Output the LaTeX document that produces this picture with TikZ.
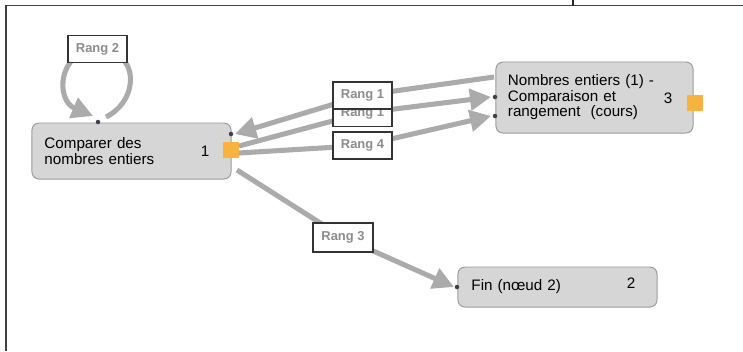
\documentclass[tikz,border=0pt]{standalone}
\usepackage{fontspec}
\setmainfont{Liberation Sans}
\usepackage{xcolor}
\usepackage{tikz}
\usetikzlibrary{positioning,arrows.meta,backgrounds}

\definecolor{boxfill}{HTML}{D6D6D6}
\definecolor{boxline}{HTML}{9C9C9C}
\definecolor{linkgray}{HTML}{ABABAB}
\definecolor{portorange}{HTML}{F7B33C}
\definecolor{rangtext}{HTML}{8C8C8C}
\definecolor{dotcol}{HTML}{3A4050}

\begin{document}
\begin{tikzpicture}[x=0.025cm, y=-0.025cm, font=\fontsize{10.8}{11}\selectfont,
		etape/.style={draw=boxline, fill=boxfill, line width=0.7pt, rounded corners=5pt,
			align=left, anchor=center, inner ysep=0pt},
		rang/.style={draw=black!80, fill=white, line width=0.9pt, text=rangtext,
			font=\fontsize{9.2}{9.5}\selectfont\bfseries, minimum width=1.475cm, minimum height=0.675cm, inner sep=0pt},
		lien/.style={draw=linkgray, line width=3.6pt, -{Triangle[length=15pt,width=15pt]}},
		port/.style={fill=portorange, minimum width=0.38cm, minimum height=0.38cm, inner sep=0pt},
		pt/.style={circle, fill=dotcol, inner sep=0pt, minimum size=3.2pt}]
	\useasboundingbox (0,0) rectangle (743,351);
	% cadre
	\draw[black!75, line width=0.8pt] (743,5.5) -- (6,5.5) -- (6,351);
	\draw[black!85, line width=1.4pt] (573,0) -- (573,5.5);
	
	% etapes
	\node[etape, minimum width=4.975cm, minimum height=1.4cm, text width=4.35cm] (A) at (131.5,151)
	{Comparer des\\nombres entiers};
	\node[etape, minimum width=4.925cm, minimum height=1.775cm, text width=4.325cm] (B) at (594.5,97.5)
	{Nombres entiers (1) -\\Comparaison et\\rangement\ \ (cours)};
	\node[etape, minimum width=4.975cm, minimum height=1cm, text width=4.3cm] (C) at (557.5,287)
	{Fin (n\oe ud 2)};
	\node (nA) at (205,151) {1};
	\node (nB) at (668,98) {3};
	\node (nC) at (631,283) {2};
	\node[port] (pA) at (231,150) {};
	\node[port] (pB) at (695,103) {};
	
	% points d'entree / sortie
	\coordinate (Ain) at (235,134);
	\coordinate (Aout1) at (239,146);
	\coordinate (Aout2) at (239,153);
	\coordinate (Aout3) at (237,170);
	\coordinate (Aself1) at (106,117);
	\coordinate (Aself2) at (93,116);
	\coordinate (Bout) at (494,77);
	\coordinate (Bin1) at (491,97);
	\coordinate (Bin2) at (491,116);
	\coordinate (Cin) at (454,287);
	
	% rangs
	\node[rang] (r2) at (97.5,49) {Rang 2};
	\node[rang] (r1b) at (362.5,113) {Rang 1};
	\node[rang] (r1a) at (362.5,95.5) {Rang 1};
	\node[rang] (r4) at (362.5,145.5) {Rang 4};
	\node[rang, minimum width=1.5cm, minimum height=0.72cm] (r3) at (343,237.5) {Rang 3};
	
	\begin{scope}[on background layer]
		\draw[lien] (Aself1) .. controls (140,100) and (140,50) .. (r2.center)
		.. controls (58,50) and (55,100) .. (Aself2);
		\draw[lien] (Bout) -- (r1a.center) -- (Ain);
		\draw[lien] (Aout1) -- (r1b.center) -- (Bin1);
		\draw[lien] (Aout2) -- (r4.center) -- (Bin2);
		\draw[lien] (Aout3) -- (r3.center) -- (Cin);
	\end{scope}
	
	\node[pt] (dA1) at (98,122) {};
	\node[pt] (dA2) at (231,134) {};
	\node[pt] (dB1) at (495,97) {};
	\node[pt] (dB2) at (495,116) {};
	\node[pt] (dC) at (457,287) {};
\end{tikzpicture}
\end{document}
